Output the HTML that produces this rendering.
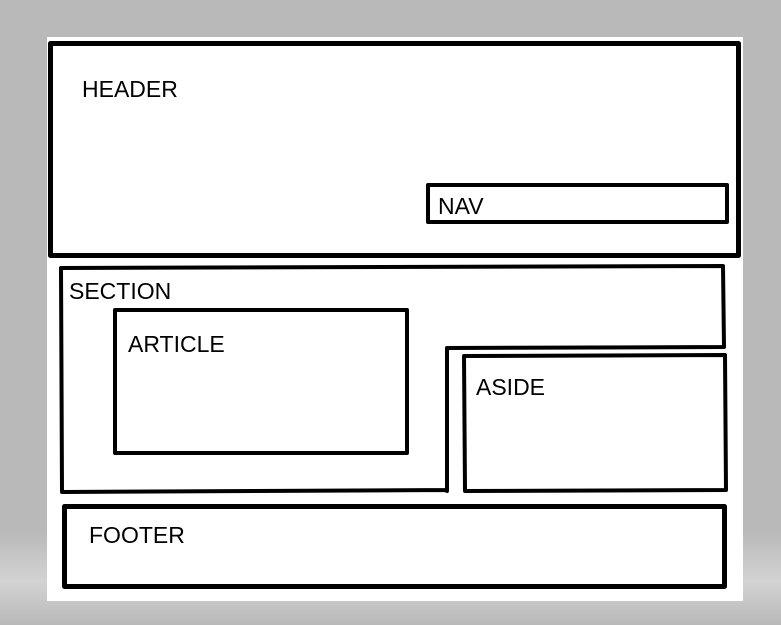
<!DOCTYPE html>
<html><head><style>
html,body{margin:0;padding:0;width:781px;height:625px;overflow:hidden;background:#b8b9b8;}
svg{display:block}
text{font-family:"Liberation Sans",sans-serif;font-size:23px;fill:#000;}
</style></head><body>
<svg width="781" height="625" viewBox="0 0 781 625">
<defs><linearGradient id="g" x1="0" y1="0" x2="0" y2="1"><stop offset="0" stop-color="#b8b9b8"/><stop offset="0.85" stop-color="#b8b9b8"/><stop offset="0.93" stop-color="#d2d3d2"/><stop offset="1" stop-color="#b8b9b8"/></linearGradient></defs>
<rect width="781" height="625" fill="url(#g)"/>
<rect x="47" y="37" width="696" height="564" fill="#fff"/>
<g fill="none" stroke="#000" stroke-linejoin="round" stroke-linecap="round">
<rect x="50.5" y="43.5" width="688" height="212" stroke-width="5"/>
<rect x="428" y="185" width="299" height="37" stroke-width="4"/>
<path d="M61 268 L723 266 L724 347 L447 348 L447 491 M447 490 L62 492 L61 268" stroke-width="4"/>
<path d="M464 356 L725 355 L726 490 L465 491 Z" stroke-width="4"/>
<rect x="115" y="310" width="292" height="143" stroke-width="4"/>
<rect x="64.5" y="506.5" width="660" height="80" stroke-width="5"/>
</g>
<text x="82" y="97">HEADER</text>
<text x="438" y="214">NAV</text>
<text x="69" y="299">SECTION</text>
<text x="128" y="352">ARTICLE</text>
<text x="476" y="395">ASIDE</text>
<text x="89" y="543">FOOTER</text>
</svg>
</body></html>
